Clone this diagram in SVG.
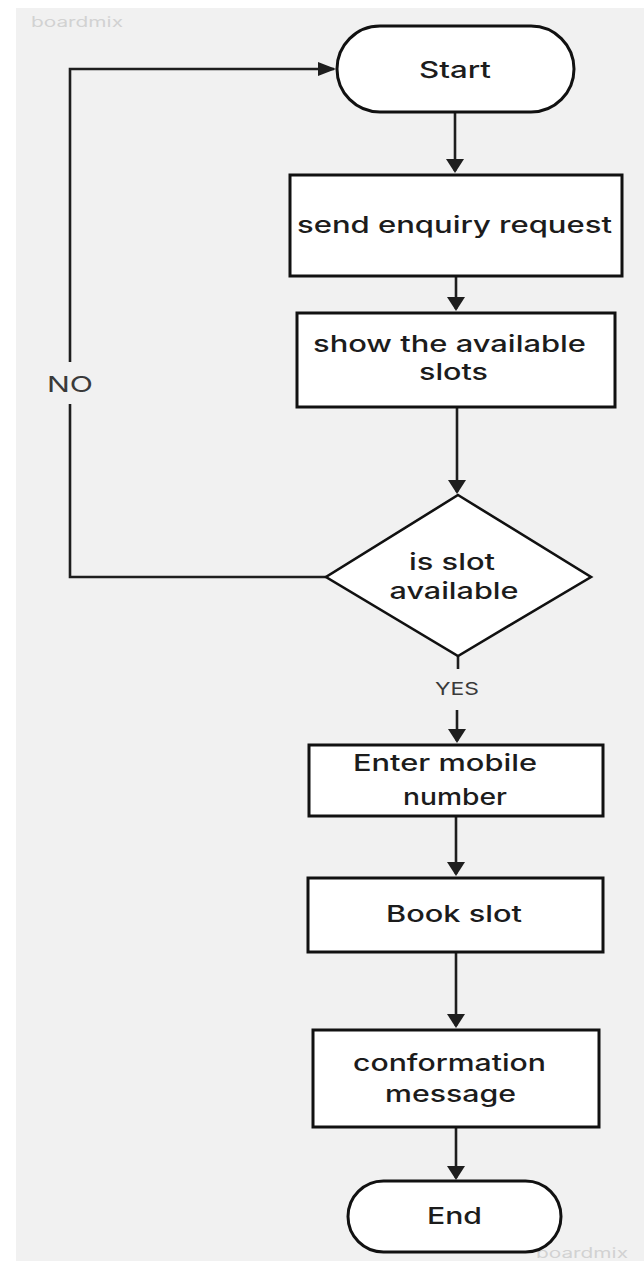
<svg xmlns="http://www.w3.org/2000/svg" width="644" height="1261" viewBox="0 0 644 1261">
<defs>
<style>
.bg{fill:#f1f1f1}
.node{fill:#ffffff;stroke:#111111;stroke-width:3}
.dia{fill:#ffffff;stroke:#111111;stroke-width:2.6}
.t{font-family:Inter,"Liberation Sans",sans-serif;font-weight:500;font-size:23px;fill:#1c1c1c;text-anchor:middle}
.lbl{font-family:Inter,"Liberation Sans",sans-serif;font-weight:400;fill:#3a3a3a;text-anchor:middle}
.wm{font-family:Inter,"Liberation Sans",sans-serif;font-size:14px;fill:#d2d2d2}
.c{fill:none;stroke:#1e1e1e;stroke-width:2.6}
</style>
<marker id="av" markerUnits="userSpaceOnUse" markerWidth="14" markerHeight="18" refX="12" refY="9" orient="auto"><path d="M0,0 L14,9 L0,18 z" fill="#1e1e1e"/></marker>
<marker id="ah" markerUnits="userSpaceOnUse" markerWidth="18" markerHeight="14" refX="16" refY="7" orient="auto"><path d="M0,0 L18,7 L0,14 z" fill="#1e1e1e"/></marker>
</defs>
<rect class="bg" x="16" y="8" width="628" height="1253"/>
<text class="wm" x="31" y="27" textLength="92" lengthAdjust="spacingAndGlyphs">boardmix</text>
<text class="wm" x="536" y="1258" textLength="92" lengthAdjust="spacingAndGlyphs">boardmix</text>

<g id="connectors">
<line class="c" x1="455" y1="112" x2="455" y2="171" marker-end="url(#av)"/>
<line class="c" x1="456" y1="276" x2="456" y2="309" marker-end="url(#av)"/>
<line class="c" x1="457" y1="407" x2="457" y2="492" marker-end="url(#av)"/>
<line class="c" x1="458" y1="656" x2="458" y2="669"/>
<line class="c" x1="457" y1="710" x2="457" y2="741" marker-end="url(#av)"/>
<line class="c" x1="456" y1="816" x2="456" y2="874" marker-end="url(#av)"/>
<line class="c" x1="456" y1="952" x2="456" y2="1026" marker-end="url(#av)"/>
<line class="c" x1="456" y1="1127" x2="456" y2="1178" marker-end="url(#av)"/>
<path class="c" d="M326,577 H70 V404"/>
<path class="c" d="M70,362 V69 H334" marker-end="url(#ah)"/>
<text class="lbl" x="70" y="392" font-size="22" textLength="46" lengthAdjust="spacingAndGlyphs">NO</text>
<text class="lbl" x="457" y="695" font-size="17" textLength="44" lengthAdjust="spacingAndGlyphs">YES</text>
</g>

<g id="start">
<rect class="node" x="337" y="26" width="237" height="86" rx="43" ry="43"/>
<text class="t" x="455" y="78" textLength="72" lengthAdjust="spacingAndGlyphs">Start</text>
</g>
<g id="send-enquiry">
<rect class="node" x="290" y="175" width="332" height="101"/>
<text class="t" x="454.5" y="233" textLength="315" lengthAdjust="spacingAndGlyphs">send enquiry request</text>
</g>
<g id="show-slots">
<rect class="node" x="297" y="313" width="318" height="94"/>
<text class="t" x="449.5" y="352" textLength="273" lengthAdjust="spacingAndGlyphs">show the available</text>
<text class="t" x="453.5" y="380" textLength="69" lengthAdjust="spacingAndGlyphs">slots</text>
</g>
<g id="is-slot-available">
<polygon class="dia" points="458,495 591,577 458,656 326,577"/>
<text class="t" x="452" y="570" textLength="86" lengthAdjust="spacingAndGlyphs">is slot</text>
<text class="t" x="454" y="599" textLength="129" lengthAdjust="spacingAndGlyphs">available</text>
</g>
<g id="enter-mobile">
<rect class="node" x="309" y="745" width="294" height="71"/>
<text class="t" x="445" y="771" textLength="184" lengthAdjust="spacingAndGlyphs">Enter mobile</text>
<text class="t" x="455" y="805" textLength="104" lengthAdjust="spacingAndGlyphs">number</text>
</g>
<g id="book-slot">
<rect class="node" x="308" y="878" width="295" height="74"/>
<text class="t" x="454" y="922" textLength="136" lengthAdjust="spacingAndGlyphs">Book slot</text>
</g>
<g id="confirmation">
<rect class="node" x="313" y="1030" width="286" height="97"/>
<text class="t" x="449.5" y="1071" textLength="193" lengthAdjust="spacingAndGlyphs">conformation</text>
<text class="t" x="450.5" y="1102" textLength="131" lengthAdjust="spacingAndGlyphs">message</text>
</g>
<g id="end">
<rect class="node" x="348" y="1181" width="213" height="71" rx="35.5" ry="35.5"/>
<text class="t" x="454.5" y="1224" textLength="55" lengthAdjust="spacingAndGlyphs">End</text>
</g>
</svg>
